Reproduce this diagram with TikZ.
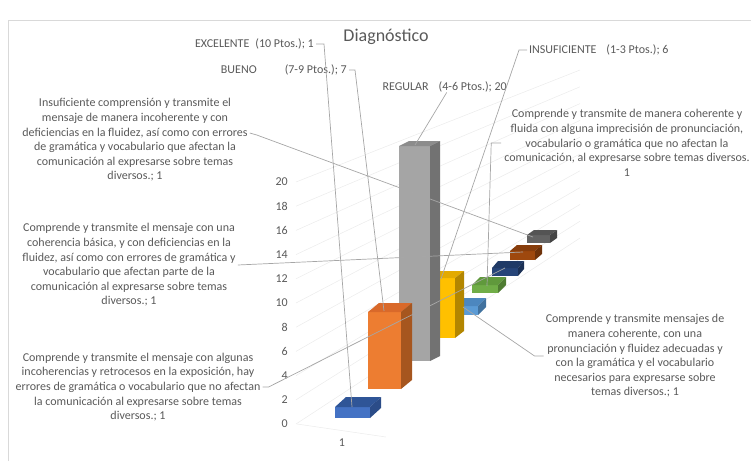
\documentclass[tikz,border=0pt]{standalone}
\usepackage{fontspec}
\setmainfont{Carlito}
\usepackage{tikz}

% colours of the bars: front, top and side face
\definecolor{cBlF}{HTML}{4472C4}\definecolor{cBlT}{HTML}{2F5597}\definecolor{cBlS}{HTML}{2B4C88}
\definecolor{cOrF}{HTML}{ED7D31}\definecolor{cOrT}{HTML}{D9692A}\definecolor{cOrS}{HTML}{A6561F}
\definecolor{cGyF}{HTML}{A5A5A5}\definecolor{cGyT}{HTML}{8C8C8C}\definecolor{cGyS}{HTML}{727272}
\definecolor{cYeF}{HTML}{FFC000}\definecolor{cYeT}{HTML}{E3AA00}\definecolor{cYeS}{HTML}{B38600}
\definecolor{cLbF}{HTML}{5B9BD5}\definecolor{cLbT}{HTML}{4C87BF}\definecolor{cLbS}{HTML}{41729F}
\definecolor{cGrF}{HTML}{70AD47}\definecolor{cGrT}{HTML}{60993C}\definecolor{cGrS}{HTML}{4F7C32}
\definecolor{cDbF}{HTML}{264478}\definecolor{cDbT}{HTML}{203A66}\definecolor{cDbS}{HTML}{1B3055}
\definecolor{cBrF}{HTML}{9E480E}\definecolor{cBrT}{HTML}{873D0C}\definecolor{cBrS}{HTML}{6E320A}
\definecolor{cKF}{HTML}{636363}\definecolor{cKT}{HTML}{545454}\definecolor{cKS}{HTML}{454545}
\definecolor{txtgray}{HTML}{595959}
\definecolor{leadgray}{HTML}{A6A6A6}
\definecolor{gridgray}{HTML}{EBEBEB}
\definecolor{framegray}{HTML}{D9D9D9}

% one 3d column: x, top, bottom, width, depth x, depth y, colour
\newcommand{\colbar}[7]{%
 \fill[#7F] (#1,#2) rectangle (#1+#4,#3);
 \fill[#7T] (#1,#2) -- (#1+#4,#2) -- (#1+#4+#5,#2-#6) -- (#1+#5,#2-#6) -- cycle;
 \fill[#7S] (#1+#4,#2) -- (#1+#4+#5,#2-#6) -- (#1+#4+#5,#3-#6) -- (#1+#4,#3) -- cycle;
}

\begin{document}
\begin{tikzpicture}[x=1pt,y=-1pt,
 lbl/.style={text=txtgray, font=\fontsize{12}{14.6}\selectfont, align=center, inner sep=0pt},
 leader/.style={draw=leadgray, line width=0.7pt}]
 \useasboundingbox (0,0) rectangle (751,461);
 % chart frame
 \draw[framegray, line width=0.8pt] (8,461) -- (8,20) -- (751,20);

 % gridlines on the wall
 \foreach \v in {0,2,...,20} {
 \draw[gridgray, line width=0.5pt] (296,424-12.1*\v) -- (580,238-8.4*\v);
 }
 \draw[gridgray, line width=0.5pt] (297,424) -- (386,437);

 % the numbers
 \foreach \v in {0,2,...,20} { \node[lbl, anchor=east] (v\v) at (288,424-12.1*\v) {\v}; }
 \node[lbl] (cat) at (342,443) {1};

 % columns, from back to front
 \colbar{527}{235}{243}{23}{7}{5}{cK}
 \colbar{510}{251}{260}{25}{7}{6}{cBr}
 \colbar{492}{268}{276}{26}{6}{7}{cDb}
 \colbar{472}{285}{293}{26}{8}{8}{cGr}
 \colbar{452}{306}{315}{26}{8}{8}{cLb}
 \colbar{427}{278}{338}{28}{9}{7}{cYe}
 \colbar{399}{146}{361}{31}{10}{5}{cGy}
 \colbar{368}{312}{389}{33}{11}{9}{cOr}
 \colbar{335}{407}{418}{35}{11}{10}{cBl}

 % points of the leaders on the columns
 \coordinate (tipExc) at (352,407);
 \coordinate (tipBue) at (384,311);
 \coordinate (tipReg) at (415,145);
 \coordinate (tipIns) at (441,279);
 \coordinate (tipA) at (533,237);
 \coordinate (tipB) at (487,286);
 \coordinate (tipC) at (523,252);
 \coordinate (tipD) at (505,268);
 \coordinate (tipE) at (463,307);

 % title
 \node[text=txtgray, font=\fontsize{18}{20}\selectfont] (title) at (386,37) {Diagnóstico};

 % data labels
 \node[lbl, anchor=east] (lblExc) at (314,44) {EXCELENTE\hspace{6pt}(10 Ptos.); 1};
 \node[lbl, anchor=east] (lblBue) at (347,70) {BUENO\hspace{28pt}(7-9 Ptos.); 7};
 \node[lbl, anchor=east] (lblReg) at (507,87) {REGULAR\hspace{10pt}(4-6 Ptos.); 20};
 \node[lbl, anchor=west] (lblIns) at (529,50) {INSUFICIENTE\hspace{10pt}(1-3 Ptos.); 6};

 \node[lbl] (lblA) at (135,140) {Insuficiente comprensión y transmite el\\ mensaje de manera incoherente y con\\ deficiencias en la fluidez, así como con errores\\ de gramática y vocabulario que afectan la\\ comunicación al expresarse sobre temas\\ diversos.; 1};
 \node[lbl] (lblB) at (627,143) {Comprende y transmite de manera coherente y\\ fluida con alguna imprecisión de pronunciación,\\ vocabulario o gramática que no afectan la\\ comunicación, al expresarse sobre temas diversos.\\ 1};
 \node[lbl] (lblC) at (129,265) {Comprende y transmite el mensaje con una\\ coherencia básica, y con deficiencias en la\\ fluidez, así como con errores de gramática y\\ vocabulario que afectan parte de la\\ comunicación al expresarse sobre temas\\ diversos.; 1};
 \node[lbl] (lblD) at (138,387) {Comprende y transmite el mensaje con algunas\\ incoherencias y retrocesos en la exposición, hay\\ errores de gramática o vocabulario que no afectan\\ la comunicación al expresarse sobre temas\\ diversos.; 1};
 \node[lbl] (lblE) at (635,356) {Comprende y transmite mensajes de\\ manera coherente, con una\\ pronunciación y fluidez adecuadas y\\ con la gramática y el vocabulario\\ necesarios para expresarse sobre\\ temas diversos.; 1};

 % leaders
 \draw[leader] ([xshift=2pt]lblExc.east) -- ++(8,0) -- (tipExc);
 \draw[leader] ([xshift=2pt]lblBue.east) -- ++(6,0) -- (tipBue);
 \draw[leader] ([xshift=2pt]lblReg.south) -- (tipReg);
 \draw[leader] ([xshift=-2pt]lblIns.west) -- ++(-8,0) -- (tipIns);
 \draw[leader] ([xshift=2pt,yshift=7pt]lblA.east) -- ++(7,2) -- (tipA);
 \draw[leader] ([xshift=-3pt]lblB.west) -- ++(-10,0) -- (tipB);
 \draw[leader] ([xshift=2pt]lblC.east) -- (tipC);
 \draw[leader] ([xshift=2pt]lblD.east) -- ++(6,0) -- (tipD);
 \draw[leader] ([xshift=-2pt]lblE.west) -- ++(-9,0) -- (tipE);

\end{tikzpicture}
\end{document}
